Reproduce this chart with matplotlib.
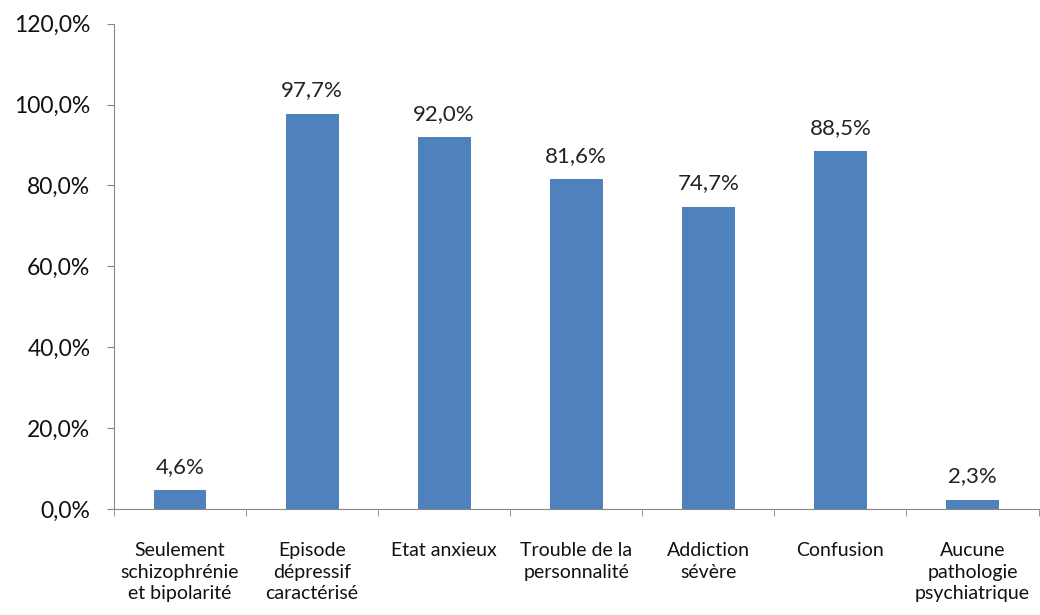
import matplotlib
matplotlib.use("Agg")
import matplotlib.pyplot as plt
import numpy as np
from matplotlib.ticker import FixedLocator, FuncFormatter

categories = [
    "Seulement\nschizophrénie\net bipolarité",
    "Episode\ndépressif\ncaractérisé",
    "Etat anxieux",
    "Trouble de la\npersonnalité",
    "Addiction\nsévère",
    "Confusion",
    "Aucune\npathologie\npsychiatrique",
]
values = [4.6, 97.7, 92.0, 81.6, 74.7, 88.5, 2.3]
y_ticks = [0, 20, 40, 60, 80, 100, 120]

plt.rcParams["font.family"] = ["Lato", "DejaVu Sans"]

fig = plt.figure(figsize=(10.4, 6.15), dpi=100)
ax = fig.add_axes([0.1096, 0.1724, 0.889, 0.789])

x = np.arange(len(categories))
ax.bar(x, values, width=0.4, color="#4F81BD")

for xi, v in zip(x, values):
    ax.text(xi, v + 3.3, f"{v:.1f}%".replace(".", ","), ha="center", va="bottom",
            fontsize=16, color="#222222")

ax.set_xlim(-0.5, len(categories) - 0.5)
ax.set_ylim(0, 120)
ax.set_yticks(y_ticks)
ax.yaxis.set_major_formatter(FuncFormatter(lambda v, p: f"{v:.1f}%".replace(".", ",")))
ax.tick_params(axis="y", labelsize=16.5, length=5, color="#888888", labelcolor="#111111", pad=12)

ax.set_xticks(x)
ax.set_xticklabels(categories, fontsize=14, color="#111111", linespacing=1.3)
ax.tick_params(axis="x", which="major", length=0, pad=24)
ax.xaxis.set_minor_locator(FixedLocator(np.arange(-0.5, len(categories) + 0.5, 1)))
ax.tick_params(axis="x", which="minor", length=5, color="#888888")

for s in ["top", "right"]:
    ax.spines[s].set_visible(False)
for s in ["left", "bottom"]:
    ax.spines[s].set_color("#888888")

fig.savefig("out.png", dpi=100)
